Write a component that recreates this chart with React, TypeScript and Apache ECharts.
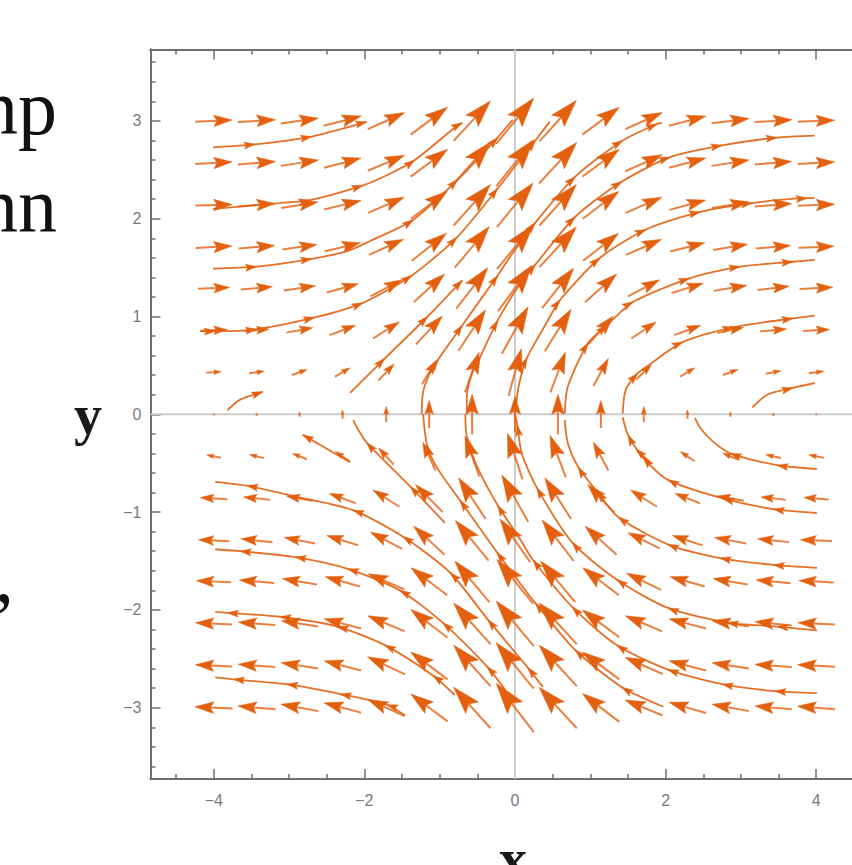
import React, { useEffect, useRef } from "react";
import * as echarts from "echarts";

const xMin = -4.84, xMax = 4.84, yMin = -3.73, yMax = 3.73;
const xMajor = [-4, -2, 0, 2, 4];
const xMinor = [-4.5, -3.5, -3, -2.5, -1.5, -1, -0.5, 0.5, 1, 1.5, 2.5, 3, 3.5, 4.5];
const yMajor = [-3, -2, -1, 0, 1, 2, 3];
const yMinor = [-3.6, -3.4, -3.2, -2.8, -2.6, -2.4, -2.2, -1.8, -1.6, -1.4, -1.2, -0.8, -0.6, -0.4, -0.2, 0.2, 0.4, 0.6, 0.8, 1.2, 1.4, 1.6, 1.8, 2.2, 2.4, 2.6, 2.8, 3.2, 3.4, 3.6];

const xGrid = [-4, -3.43, -2.86, -2.29, -1.71, -1.14, -0.57, 0, 0.57, 1.14, 1.71, 2.29, 2.86, 3.43, 4];
const yGrid = [3, 2.57, 2.14, 1.71, 1.29, 0.86, 0.43, 0, -0.43, -0.86, -1.29, -1.71, -2.14, -2.57, -3];

// arrow vectors (tail to tip, data units), one row per yGrid value
const row1 = [[.49,.02],[.5,.025],[.5,.055],[.5,.1],[.49,.17],[.49,.28],[.49,.41],[.5,.47],[.49,.42],[.49,.28],[.49,.17],[.49,.1],[.5,.05],[.5,.025],[.49,.015]];
const row2 = [[.49,.02],[.5,.03],[.5,.06],[.49,.1],[.49,.16],[.49,.28],[.49,.43],[.5,.48],[.5,.42],[.49,.28],[.49,.17],[.49,.1],[.5,.06],[.49,.03],[.49,.02]];
const row3 = [[.49,.01],[.49,.03],[.49,.06],[.49,.09],[.48,.16],[.48,.28],[.49,.42],[.48,.45],[.49,.42],[.48,.28],[.48,.16],[.48,.1],[.49,.06],[.49,.03],[.49,.015]];
const row4 = [[.48,.02],[.48,.03],[.46,.05],[.48,.09],[.46,.16],[.46,.28],[.46,.42],[.48,.45],[.49,.41],[.47,.28],[.47,.16],[.46,.09],[.46,.06],[.46,.03],[.47,.015]];
const row5 = [[.42,.015],[.42,.03],[.42,.05],[.42,.09],[.42,.17],[.41,.29],[.42,.42],[.45,.47],[.42,.41],[.42,.29],[.42,.17],[.42,.1],[.44,.056],[.42,.04],[.44,.017]];
const row6 = [[.36,.01],[.33,.02],[.35,.05],[.35,.1],[.35,.17],[.35,.29],[.36,.42],[.35,.48],[.35,.43],[.33,.29],[.33,.17],[.35,.1],[.35,.056],[.35,.026],[.35,.015]];
const row7 = [[.2,.012],[.2,.02],[.2,.056],[.2,.09],[.21,.17],[.19,.245],[.19,.41],[.17,.48],[.2,.41],[.2,.28],[.2,.15],[.19,.09],[.2,.056],[.2,.03],[.2,.02]];
const row8 = [[0,.02],[0,.03],[0,.05],[0,.09],[0,.16],[0,.28],[0,.41],[0,.37],[0,.41],[0,.28],[0,.16],[0,.09],[0,.05],[0,.03],[0,.02]];
const row9 = [[-.19,.03],[-.19,.036],[-.19,.06],[-.19,.1],[-.2,.17],[-.17,.29],[-.19,.41],[-.2,.47],[-.21,.43],[-.2,.29],[-.21,.15],[-.19,.1],[-.2,.066],[-.2,.034],[-.2,.03]];
const row10 = [[-.36,.017],[-.35,.03],[-.35,.05],[-.35,.1],[-.35,.17],[-.36,.28],[-.36,.42],[-.35,.48],[-.35,.42],[-.35,.29],[-.35,.17],[-.33,.1],[-.36,.05],[-.33,.03],[-.33,.02]];
const row11 = [[-.41,.015],[-.42,.036],[-.41,.06],[-.42,.1],[-.42,.17],[-.41,.29],[-.44,.41],[-.4,.44],[-.42,.42],[-.42,.29],[-.42,.16],[-.4,.1],[-.42,.06],[-.42,.034],[-.42,.013]];
const row12 = [[-.46,.017],[-.46,.03],[-.46,.06],[-.46,.1],[-.48,.16],[-.48,.28],[-.46,.42],[-.48,.45],[-.46,.42],[-.48,.28],[-.46,.17],[-.46,.1],[-.46,.06],[-.46,.034],[-.46,.02]];
const row13 = [[-.49,.017],[-.49,.03],[-.49,.06],[-.49,.1],[-.49,.16],[-.49,.29],[-.49,.42],[-.5,.46],[-.5,.42],[-.49,.28],[-.49,.16],[-.49,.1],[-.49,.06],[-.49,.04],[-.49,.017]];
const row14 = [[-.49,.017],[-.49,.03],[-.49,.06],[-.49,.1],[-.5,.18],[-.49,.28],[-.49,.42],[-.5,.47],[-.5,.42],[-.49,.28],[-.5,.17],[-.49,.1],[-.49,.06],[-.49,.026],[-.5,.02]];
const row15 = [[-.5,.017],[-.5,.034],[-.5,.07],[-.49,.1],[-.49,.17],[-.49,.28],[-.49,.42],[-.5,.5],[-.5,.42],[-.49,.29],[-.5,.16],[-.49,.11],[-.49,.07],[-.49,.034],[-.5,.03]];
const rows = [row1, row2, row3, row4, row5, row6, row7, row8, row9, row10, row11, row12, row13, row14, row15];

// streamlines in flow order, with the vertex indices that carry an arrowhead
const L1 = [[-4.01,2.73],[-3.45,2.76],[-2.7,2.84],[-1.97,2.99]];
const L2 = [[-4.01,2.1],[-3.43,2.14],[-3.12,2.16],[-2.72,2.19],[-2.02,2.34],[-1.66,2.46],[-1.33,2.6],[-0.77,2.95],[-0.7,2.98]];
const L3 = [[-4.01,1.49],[-3.43,1.51],[-2.7,1.59],[-2.22,1.67],[-1.93,1.77],[-1.35,1.99],[-0.76,2.4],[-0.23,2.83],[-0.03,3.01]];
const L4 = [[-4.18,.85],[-3.98,.85],[-3.43,.87],[-2.66,.99],[-2.02,1.14],[-1.37,1.42],[-0.77,1.81],[-0.23,2.31],[.27,2.8],[.46,2.99]];
const L5 = [[-2.19,.22],[-1.73,.57],[-1.16,1],[-0.7,1.37]];
const L6 = [[-3.82,.04],[-3.65,.15],[-3.35,.23]];
const V1 = [[-1.24,0],[-1.22,.23],[-1.13,.42],[-1.02,.56],[-0.7,.91],[-0.23,1.42],[-0.03,1.65],[.27,1.96],[.8,2.43],[1.43,2.8],[1.89,2.97],[1.95,2.98]];
const V2 = [[-0.64,0],[-0.64,.18],[-0.57,.42],[-0.46,.59],[-0.23,.96],[.07,1.34],[.27,1.53],[.8,2.02],[1.42,2.38],[2.06,2.63],[2.75,2.75],[3.48,2.83],[3.98,2.85]];
const V3 = [[0,0],[.04,.25],[.09,.42],[.16,.58],[.4,.91],[.6,1.17],[1.13,1.6],[1.74,1.89],[2.46,2.07],[3.15,2.16],[3.88,2.21],[3.98,2.21]];
const V4 = [[.66,.01],[.7,.28],[.97,.73],[1.22,.91],[1.57,1.15],[2.32,1.39],[2.99,1.51],[3.69,1.56],[3.98,1.58]];
const V5 = [[1.43,.01],[1.47,.25],[1.63,.42],[1.77,.5],[2.23,.74],[2.9,.89],[3.69,.98],[3.98,1.01]];
const V6 = [[3.15,.07],[3.35,.2],[3.69,.27],[3.98,.32]];
const B1 = [[4.01,-.56],[3.48,-.52],[2.86,-.4],[2.63,-.28],[2.46,-.14],[2.39,-.04]];
const B2 = [[4.01,-1.01],[3.43,-.97],[2.76,-.86],[2.03,-.67],[1.7,-.44],[1.5,-.21],[1.43,-.03]];
const B3 = [[4.01,-1.57],[3.43,-1.54],[2.72,-1.47],[2.03,-1.33],[1.37,-1.05],[1.09,-.79],[.84,-.54],[.7,-.29],[.66,-.06]];
const B4 = [[4.01,-2.21],[3.48,-2.17],[2.82,-2.13],[2.03,-1.98],[1.35,-1.69],[.76,-1.31],[.29,-.75],[.09,-.4],[.03,-.11],[0,0]];
const B5 = [[4.01,-2.85],[3.45,-2.83],[2.75,-2.76],[2.03,-2.61],[1.35,-2.36],[.76,-1.97],[.24,-1.49],[.07,-1.28],[-0.23,-.93],[-0.5,-.54],[-0.64,-.23],[-0.66,0]];
const B6 = [[1.97,-2.99],[1.42,-2.79],[.8,-2.41],[.27,-1.93],[.03,-1.69],[-0.24,-1.41],[-0.73,-.88],[-1.04,-.54],[-1.17,-.31],[-1.22,0]];
const C1 = [[.37,-2.79],[.17,-2.59],[-0.36,-2.1],[-0.86,-1.62],[-1.49,-1.25],[-2.15,-.98],[-2.86,-.85],[-3.56,-.73],[-3.98,-.69]];
const C2 = [[-0.13,-2.82],[-0.37,-2.58],[-0.96,-2.13],[-1.53,-1.8],[-2.22,-1.58],[-2.92,-1.46],[-3.65,-1.4],[-3.98,-1.38]];
const C3 = [[-0.8,-2.87],[-1.09,-2.67],[-1.73,-2.36],[-2.36,-2.17],[-3.12,-2.07],[-3.82,-2.03],[-3.98,-2.02]];
const C4 = [[-1.46,-3.08],[-1.7,-2.97],[-2.32,-2.86],[-3.03,-2.76],[-3.74,-2.71],[-3.98,-2.69]];
const S1 = [[-2.19,-.49],[-2.82,-.21]];
const S2 = [[-0.93,-1.11],[-1.39,-.74],[-1.97,-.29],[-2.08,-.16],[-2.15,-.06]];

const streams: { pts: number[][]; heads: number[] }[] = [
  { pts: L1, heads: [1, 2, 3] },
  { pts: L2, heads: [3, 4, 6, 8] },
  { pts: L3, heads: [1, 2, 5, 6, 7] },
  { pts: L4, heads: [1, 2, 3, 4, 5, 6, 7, 8] },
  { pts: L5, heads: [1, 2, 3] },
  { pts: L6, heads: [2] },
  { pts: V1, heads: [3, 4, 5, 7, 8, 9, 10] },
  { pts: V2, heads: [3, 4, 6, 7, 8, 9, 10, 11] },
  { pts: V3, heads: [3, 5, 6, 7, 8, 9, 10] },
  { pts: V4, heads: [2, 3, 4, 5, 6, 7] },
  { pts: V5, heads: [2, 4, 5, 6] },
  { pts: V6, heads: [2] },
  { pts: B1, heads: [1, 2] },
  { pts: B2, heads: [1, 2, 3, 4, 5] },
  { pts: B3, heads: [1, 2, 3, 4, 5, 6] },
  { pts: B4, heads: [1, 2, 3, 4, 5, 6, 8] },
  { pts: B5, heads: [1, 2, 3, 4, 5, 6, 8, 10] },
  { pts: B6, heads: [1, 2, 3, 5, 6, 8] },
  { pts: C1, heads: [1, 2, 3, 4, 5, 7] },
  { pts: C2, heads: [1, 2, 3, 4, 5, 6] },
  { pts: C3, heads: [1, 2, 3, 4, 5] },
  { pts: C4, heads: [1, 2, 3, 4] },
  { pts: S1, heads: [1] },
  { pts: S2, heads: [1, 2] },
];

const ORANGE = "#e3600f";
const FRAME = "#6f6f6f";
const LABEL = "#767b82";
const SERIF = "'Liberation Serif', serif";

const head = (x: number, y: number, ux: number, uy: number, L: number, W: number, style: any) => {
  const bx = x - ux * L, by = y - uy * L;
  const nx = x - ux * L * 0.82, ny = y - uy * L * 0.82;
  return {
    type: "polygon",
    shape: {
      points: [
        [x, y],
        [bx - uy * W / 2, by + ux * W / 2],
        [nx, ny],
        [bx + uy * W / 2, by - ux * W / 2],
      ],
    },
    style,
  };
};

const renderGridArrow = (_: any, api: any) => {
  const a = api.coord([api.value(0), api.value(1)]);
  const b = api.coord([api.value(2), api.value(3)]);
  const dx = b[0] - a[0], dy = b[1] - a[1];
  const len = Math.hypot(dx, dy) || 1;
  const ux = dx / len, uy = dy / len;
  const L = len * 0.5, W = len * 0.31;
  const n = [b[0] - ux * L * 0.8, b[1] - uy * L * 0.8];
  return {
    type: "group",
    children: [
      { type: "line", shape: { x1: a[0], y1: a[1], x2: n[0], y2: n[1] }, style: { stroke: ORANGE, lineWidth: 2, opacity: 0.8, fill: "none" } },
      head(b[0], b[1], ux, uy, L, W, { fill: ORANGE, stroke: ORANGE, lineWidth: 0.5 }),
    ],
  };
};

const renderStreamHead = (_: any, api: any) => {
  const a = api.coord([api.value(0), api.value(1)]);
  const b = api.coord([api.value(2), api.value(3)]);
  const dx = b[0] - a[0], dy = b[1] - a[1];
  const len = Math.hypot(dx, dy) || 1;
  return head(b[0], b[1], dx / len, dy / len, 11, 7, { fill: ORANGE, stroke: ORANGE, lineWidth: 0.5 });
};

const gridArrowData: number[][] = [];
rows.forEach((row, j) => {
  row.forEach(([vx, vy], i) => {
    gridArrowData.push([xGrid[i] - vx / 2, yGrid[j] - vy / 2, xGrid[i] + vx / 2, yGrid[j] + vy / 2]);
  });
});

const streamHeadData: number[][] = [];
streams.forEach(({ pts, heads }) => {
  heads.forEach((k) => {
    const p = pts[k - 1];
    const q = pts[k];
    const r = pts[Math.min(k + 1, pts.length - 1)];
    streamHeadData.push([q[0] - (r[0] - p[0]) * 0.5, q[1] - (r[1] - p[1]) * 0.5, q[0], q[1]]);
  });
});

const fmt = (v: number) => String(v).replace("-", "\u2212");
const labelStyle = { fontFamily: "'Liberation Sans', sans-serif", fontSize: 16, color: LABEL };

const makeAxis = (kind: "x" | "y", position: string, ticks: number[], tickLen: number, margin: number | null) => ({
  type: "value",
  position,
  min: kind === "x" ? xMin : yMin,
  max: kind === "x" ? xMax : yMax,
  splitLine: { show: false },
  axisLine: { show: true, onZero: false, lineStyle: { color: FRAME, width: 2 } },
  axisTick: { show: true, inside: true, length: tickLen, customValues: ticks, lineStyle: { color: FRAME, width: 1.5 } },
  axisLabel: margin !== null
    ? { show: true, customValues: ticks, margin, formatter: fmt, ...labelStyle }
    : { show: false },
});

const option = {
  animation: false,
  backgroundColor: "#ffffff",
  grid: { left: 150.5, top: 49.5, width: 729, height: 729.6, containLabel: false },
  xAxis: [
    makeAxis("x", "bottom", xMajor, 10, 13),
    makeAxis("x", "bottom", xMinor, 5, null),
    makeAxis("x", "top", xMajor, 10, null),
    makeAxis("x", "top", xMinor, 5, null),
  ],
  yAxis: [
    makeAxis("y", "left", yMajor, 10, 9),
    makeAxis("y", "left", yMinor, 5, null),
    makeAxis("y", "right", yMajor, 10, null),
    makeAxis("y", "right", yMinor, 5, null),
  ],
  series: [
    { type: "line", name: "x origin", data: [[xMin, 0], [xMax, 0]], showSymbol: false, silent: true, z: 1, lineStyle: { color: "#cccccc", width: 2 } },
    { type: "line", name: "y origin", data: [[0, yMin], [0, yMax]], showSymbol: false, silent: true, z: 1, lineStyle: { color: "#cccccc", width: 2 } },
    ...streams.map((s, i) => ({
      type: "line",
      name: `stream ${i + 1}`,
      data: s.pts,
      showSymbol: false,
      smooth: 0.25,
      silent: true,
      z: 3,
      lineStyle: { color: ORANGE, width: 1.8, opacity: 0.9 },
    })),
    { type: "custom", name: "vectors", renderItem: renderGridArrow, data: gridArrowData, encode: { x: [0, 2], y: [1, 3] }, silent: true, z: 4 },
    { type: "custom", name: "stream heads", renderItem: renderStreamHead, data: streamHeadData, encode: { x: [0, 2], y: [1, 3] }, silent: true, z: 4 },
  ],
  graphic: [
    { type: "text", x: 57, y: 68, style: { text: "np", font: `78px ${SERIF}`, fill: "#111", textAlign: "right" } },
    { type: "text", x: 57, y: 166, style: { text: "nn", font: `78px ${SERIF}`, fill: "#111", textAlign: "right" } },
    { type: "text", x: 14, y: 536, style: { text: ",", font: `78px ${SERIF}`, fill: "#111", textAlign: "right" } },
    { type: "text", x: 88, y: 387, style: { text: "y", font: `bold 56px ${SERIF}`, fill: "#1a1a1a", textAlign: "center" } },
    { type: "text", x: 513, y: 831, style: { text: "x", font: `bold 56px ${SERIF}`, fill: "#1a1a1a", textAlign: "center" } },
  ],
};

export default function App() {
  const ref = useRef<HTMLDivElement>(null);
  useEffect(() => {
    const chart = echarts.init(ref.current!, undefined, { renderer: "svg" });
    chart.setOption(option as any);
    return () => chart.dispose();
  }, []);
  return (
    <div style={{ position: "fixed", left: 0, top: 0, width: 852, height: 865, overflow: "hidden", background: "#fff" }}>
      <div ref={ref} style={{ width: 900, height: 865 }} />
    </div>
  );
}
